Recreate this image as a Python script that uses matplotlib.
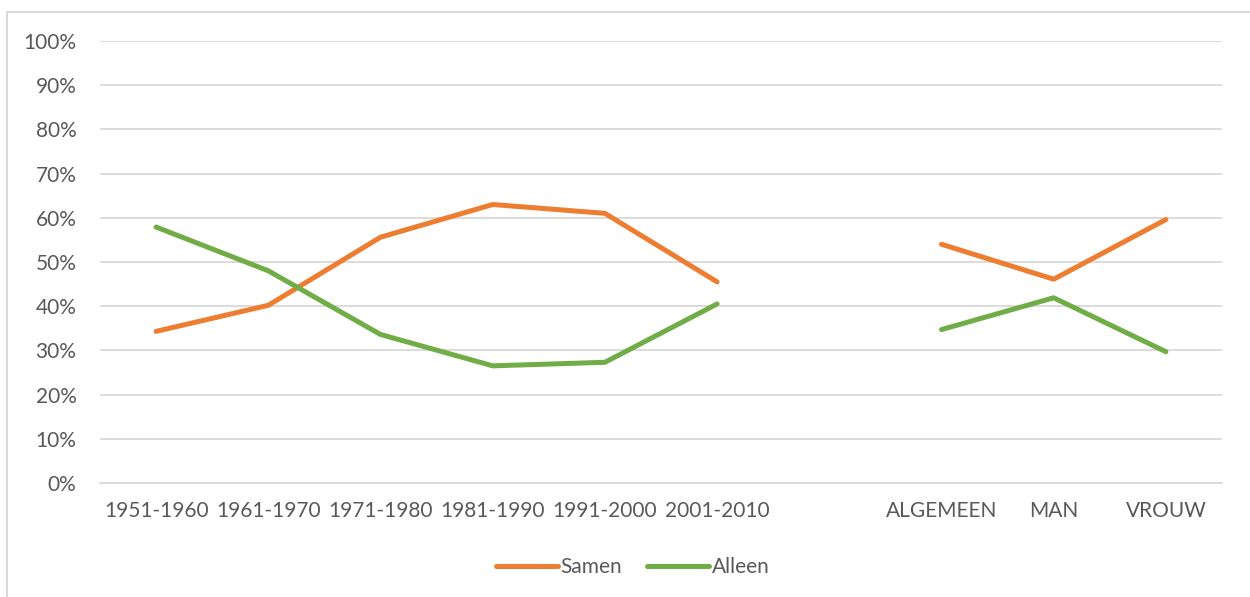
import numpy as np
import matplotlib.pyplot as plt
from matplotlib.patches import Rectangle

plt.rcParams['font.family'] = ['Lato', 'DejaVu Sans']

categories = ["1951-1960", "1961-1970", "1971-1980", "1981-1990", "1991-2000",
              "2001-2010", "", "ALGEMEEN", "MAN", "VROUW"]
samen = [34.3, 40.2, 55.6, 63.0, 61.0, 45.5, np.nan, 54.0, 46.1, 59.6]
alleen = [57.9, 48.0, 33.6, 26.5, 27.3, 40.5, np.nan, 34.7, 41.9, 29.7]

text_col = "#595959"

fig = plt.figure(figsize=(12.5, 5.97), dpi=100)
ax = fig.add_axes([0.08, 0.191, 0.8976, 0.7404])

x = np.arange(len(categories))
ax.plot(x, np.array(samen) / 100, color="#ED7D31", lw=3.6,
        solid_capstyle="round", solid_joinstyle="round", label="Samen")
ax.plot(x, np.array(alleen) / 100, color="#70AD47", lw=3.6,
        solid_capstyle="round", solid_joinstyle="round", label="Alleen")

ax.set_xlim(-0.5, len(categories) - 0.5)
ax.set_ylim(0, 1)
ax.set_yticks(np.arange(0, 1.01, 0.1))
ax.set_yticklabels([f"{int(round(v * 100))}%" for v in np.arange(0, 1.01, 0.1)])
ax.set_xticks(x)
ax.set_xticklabels(categories)
ax.yaxis.grid(True, color="#D9D9D9", lw=1.3)
ax.set_axisbelow(True)
for s in ax.spines.values():
    s.set_visible(False)
ax.spines["bottom"].set_visible(True)
ax.spines["bottom"].set_color("#D9D9D9")
ax.spines["bottom"].set_linewidth(1.3)
ax.tick_params(length=0, labelsize=15, labelcolor=text_col)
ax.tick_params(axis="x", pad=13)
ax.tick_params(axis="y", pad=17)

leg = fig.legend(loc="center", bbox_to_anchor=(0.506, 0.05), ncol=2,
                 frameon=False, fontsize=15, handlelength=3.0,
                 handletextpad=0.1, columnspacing=1.2)
for t in leg.get_texts():
    t.set_color(text_col)

fig.patches.append(Rectangle((7 / 1250, -0.1), 1.2, 1 - 12 / 597 + 0.1,
                             transform=fig.transFigure, fill=False,
                             edgecolor="#D9D9D9", lw=1.5))

fig.savefig("out.png", dpi=100)
